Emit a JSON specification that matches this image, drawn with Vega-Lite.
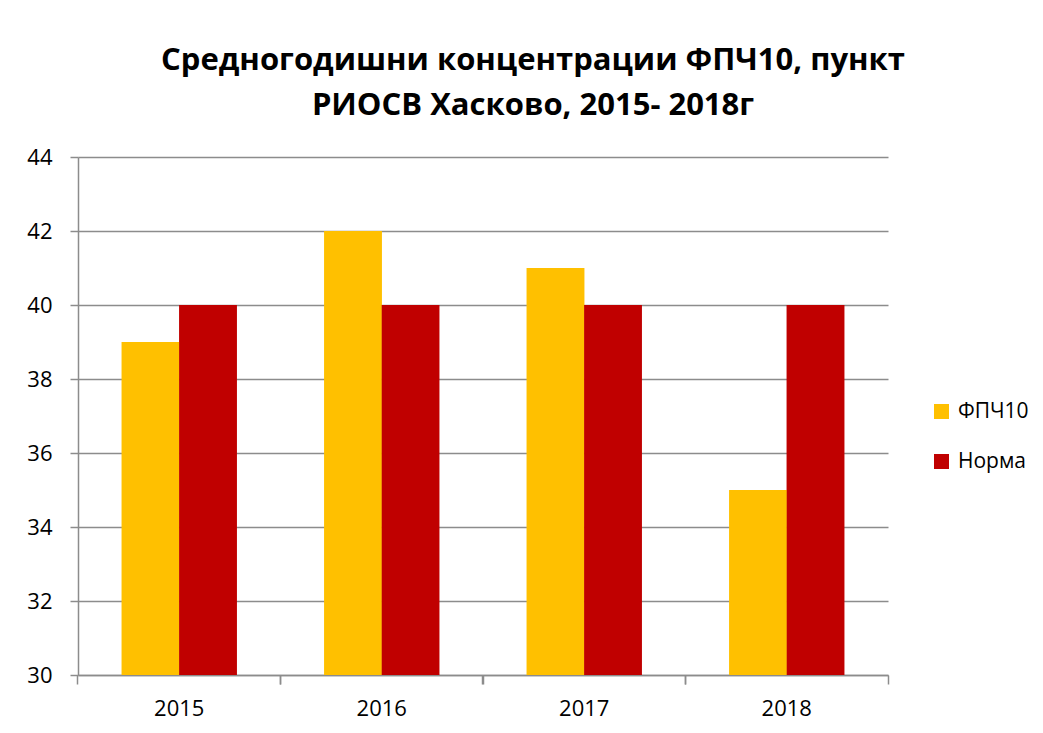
{
  "$schema": "https://vega.github.io/schema/vega-lite/v6.json",
  "width": 810,
  "height": 518,
  "autosize": "none",
  "padding": {"left": 78, "top": 157, "right": 155, "bottom": 58},
  "background": "white",
  "title": {
    "text": ["Средногодишни концентрации ФПЧ10, пункт", "РИОСВ Хасково, 2015- 2018г"],
    "font": "Open Sans",
    "fontSize": 31,
    "fontWeight": "bold",
    "color": "black",
    "anchor": "middle",
    "dx": 50,
    "offset": 24,
    "lineHeight": 45
  },
  "data": {
    "values": [
      {"year": "2015", "series": "ФПЧ10", "value": 39},
      {"year": "2015", "series": "Норма", "value": 40},
      {"year": "2016", "series": "ФПЧ10", "value": 42},
      {"year": "2016", "series": "Норма", "value": 40},
      {"year": "2017", "series": "ФПЧ10", "value": 41},
      {"year": "2017", "series": "Норма", "value": 40},
      {"year": "2018", "series": "ФПЧ10", "value": 35},
      {"year": "2018", "series": "Норма", "value": 40}
    ]
  },
  "encoding": {
    "x": {
      "field": "year",
      "type": "nominal",
      "scale": {"paddingInner": 0.432, "paddingOuter": 0.216}
    },
    "xOffset": {
      "field": "series",
      "type": "nominal",
      "scale": {"domain": ["ФПЧ10", "Норма"], "paddingInner": 0, "paddingOuter": 0}
    },
    "y": {
      "field": "value",
      "type": "quantitative",
      "scale": {"domain": [30, 44], "zero": false, "nice": false},
      "axis": {
        "title": null,
        "values": [30, 32, 34, 36, 38, 40, 42, 44],
        "grid": true,
        "gridColor": "#8c8c8c",
        "gridWidth": 1.5,
        "domainColor": "#8c8c8c",
        "domainWidth": 1.5,
        "tickColor": "#8c8c8c",
        "tickWidth": 1.5,
        "tickSize": 8,
        "labelPadding": 18,
        "labelFont": "Open Sans",
        "labelFontSize": 22,
        "labelColor": "black"
      }
    },
    "y2": {"datum": 30},
    "color": {
      "field": "series",
      "type": "nominal",
      "scale": {"domain": ["ФПЧ10", "Норма"], "range": ["#FFC000", "#C00000"]},
      "legend": {
        "title": null,
        "orient": "none",
        "legendX": 853,
        "legendY": 244,
        "symbolType": "square",
        "symbolSize": 225,
        "symbolStrokeWidth": 0,
        "labelFont": "Open Sans",
        "labelFontSize": 21,
        "labelColor": "black",
        "labelOffset": 6,
        "rowPadding": 28
      }
    }
  },
  "layer": [
    {
      "mark": {"type": "bar"},
      "encoding": {
        "x": {
          "field": "year",
          "type": "nominal",
          "axis": {
            "title": null,
            "orient": "bottom",
            "labelAngle": 0,
            "bandPosition": -0.3804,
            "domainColor": "#8c8c8c",
            "domainWidth": 1.5,
            "tickColor": "#8c8c8c",
            "tickWidth": 1.5,
            "tickSize": 9,
            "labelPadding": 14,
            "labelFont": "Open Sans",
            "labelFontSize": 22,
            "labelColor": "black"
          }
        }
      }
    },
    {
      "mark": {"type": "bar"},
      "encoding": {
        "x": {
          "field": "year",
          "type": "nominal",
          "axis": {
            "title": null,
            "orient": "bottom",
            "labels": false,
            "domain": false,
            "bandPosition": 1.3804,
            "tickColor": "#8c8c8c",
            "tickWidth": 1.5,
            "tickSize": 9
          }
        }
      }
    }
  ],
  "resolve": {"axis": {"x": "independent"}},
  "config": {
    "view": {"stroke": null},
    "axis": {"labelFont": "Open Sans"}
  }
}
